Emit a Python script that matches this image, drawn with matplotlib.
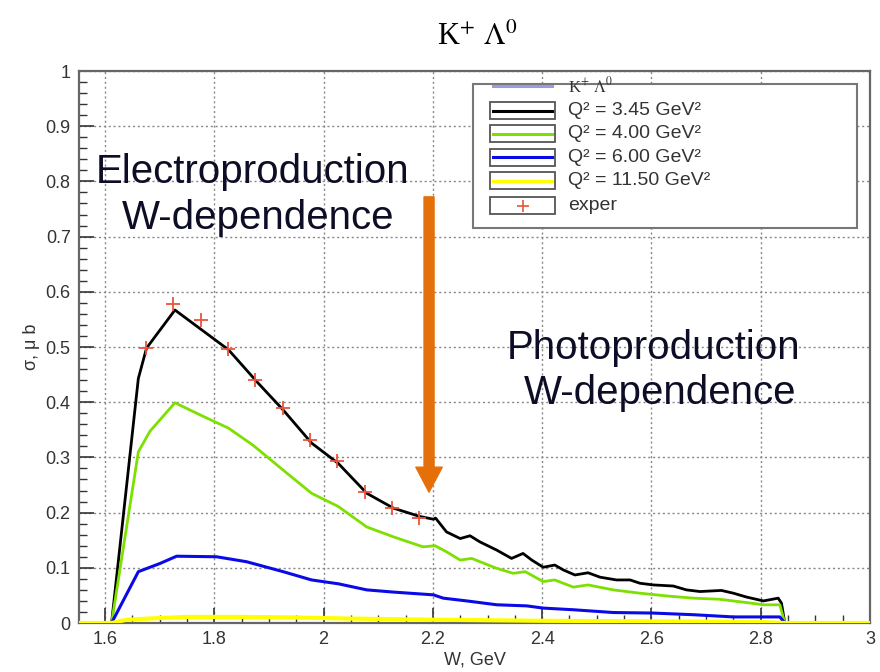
import matplotlib
matplotlib.use("Agg")
import matplotlib.pyplot as plt
from matplotlib.patches import Rectangle, FancyArrowPatch
from matplotlib.lines import Line2D

# ---------------- data ----------------
W_345 = [1.552, 1.612, 1.661, 1.676, 1.728, 1.826, 1.878, 1.926, 1.978, 2.027, 2.079,
         2.128, 2.176, 2.201, 2.205, 2.225, 2.25, 2.268, 2.286, 2.317, 2.344, 2.365,
         2.381, 2.402, 2.423, 2.439, 2.46, 2.484, 2.506, 2.536, 2.561, 2.579, 2.603,
         2.64, 2.664, 2.689, 2.728, 2.75, 2.774, 2.805, 2.832, 2.838, 2.844, 3.0]
S_345 = [0, 0, 0.443, 0.498, 0.567, 0.495, 0.437, 0.386, 0.326, 0.289, 0.235,
         0.208, 0.193, 0.188, 0.19, 0.165, 0.153, 0.158, 0.147, 0.132, 0.117, 0.126,
         0.114, 0.101, 0.105, 0.096, 0.087, 0.091, 0.083, 0.078, 0.078, 0.072, 0.069,
         0.067, 0.060, 0.057, 0.059, 0.054, 0.047, 0.040, 0.045, 0.036, 0.0, 0.0]

W_400 = [1.552, 1.612, 1.661, 1.682, 1.728, 1.774, 1.826, 1.871, 1.926, 1.978, 2.027,
         2.079, 2.128, 2.182, 2.204, 2.225, 2.25, 2.271, 2.317, 2.347, 2.369, 2.402,
         2.423, 2.457, 2.484, 2.53, 2.579, 2.628, 2.677, 2.725, 2.774, 2.805, 2.835,
         2.844, 3.0]
S_400 = [0, 0, 0.310, 0.347, 0.399, 0.377, 0.353, 0.322, 0.277, 0.235, 0.211,
         0.174, 0.156, 0.138, 0.140, 0.129, 0.114, 0.117, 0.099, 0.090, 0.093, 0.075,
         0.078, 0.065, 0.069, 0.060, 0.054, 0.049, 0.045, 0.043, 0.037, 0.033, 0.033,
         0.0, 0.0]

W_600 = [1.552, 1.612, 1.661, 1.701, 1.731, 1.804, 1.859, 1.926, 1.978, 2.027, 2.079,
         2.128, 2.201, 2.219, 2.262, 2.317, 2.372, 2.402, 2.457, 2.53, 2.603, 2.677,
         2.75, 2.835, 2.844, 3.0]
S_600 = [0, 0, 0.093, 0.108, 0.121, 0.120, 0.111, 0.093, 0.078, 0.071, 0.060,
         0.056, 0.051, 0.045, 0.040, 0.033, 0.031, 0.027, 0.024, 0.019, 0.018, 0.015,
         0.011, 0.011, 0.0, 0.0]

W_1150 = [1.552, 1.612, 1.64, 1.7, 1.75, 1.85, 1.95, 2.05, 2.2, 2.4, 2.6, 2.8, 2.844, 3.0]
S_1150 = [0, 0, 0.006, 0.009, 0.011, 0.011, 0.010, 0.008, 0.006, 0.004, 0.003, 0.002, 0, 0]

W_exp = [1.675, 1.725, 1.775, 1.825, 1.875, 1.925, 1.975, 2.025, 2.075, 2.125, 2.175]
S_exp = [0.498, 0.578, 0.549, 0.497, 0.440, 0.389, 0.331, 0.294, 0.237, 0.209, 0.190]

x_ticks = [1.6, 1.8, 2.0, 2.2, 2.4, 2.6, 2.8, 3.0]
x_ticklabels = ["1.6", "1.8", "2", "2.2", "2.4", "2.6", "2.8", "3"]
y_ticks = [0, 0.1, 0.2, 0.3, 0.4, 0.5, 0.6, 0.7, 0.8, 0.9, 1.0]
y_ticklabels = ["0", "0.1", "0.2", "0.3", "0.4", "0.5", "0.6", "0.7", "0.8", "0.9", "1"]

legend_labels = [r"K$^{+}$ $\Lambda^{0}$", "Q² = 3.45 GeV²", "Q² = 4.00 GeV²",
                 "Q² = 6.00 GeV²", "Q² = 11.50 GeV²", "exper"]

# ---------------- figure ----------------
plt.rcParams['font.family'] = ['Liberation Sans', 'DejaVu Sans']
plt.rcParams['mathtext.fontset'] = 'custom'
plt.rcParams['mathtext.rm'] = 'Liberation Sans'

fig = plt.figure(figsize=(8.8, 6.72), dpi=100)
ax = fig.add_axes([79 / 880, 49 / 672, 791 / 880, 552 / 672])

C_BLACK = "#000000"
C_GREEN = "#7ee000"
C_BLUE = "#0a0ae6"
C_YELLOW = "#ffff00"
C_RED = "#e8543c"

ax.plot(W_345, S_345, color=C_BLACK, lw=2.0, zorder=3)
ax.plot(W_400, S_400, color=C_GREEN, lw=2.0, zorder=3)
ax.plot(W_600, S_600, color=C_BLUE, lw=2.2, zorder=3)
ax.plot(W_1150, S_1150, color=C_YELLOW, lw=3.0, zorder=4)
ax.plot(W_exp, S_exp, linestyle="none", marker="+", color=C_RED, ms=10, mew=1.3, zorder=5)

ax.set_xlim(1.5524, 3.0)
ax.set_ylim(0, 1.0)
ax.set_xticks(x_ticks)
ax.set_xticklabels(x_ticklabels)
ax.set_yticks(y_ticks)
ax.set_yticklabels(y_ticklabels)
ax.set_xticks([1.6 + 0.05 * i for i in range(29)], minor=True)
ax.set_yticks([0.02 * i for i in range(51)], minor=True)
ax.tick_params(axis="both", which="major", direction="in", length=11, width=1.2,
               color="#333333", labelsize=13, labelcolor="#333333", pad=6)
ax.tick_params(axis="both", which="minor", direction="in", length=6, width=1.0, color="#333333")
ax.grid(True, which="major", linestyle=(0, (1.5, 2)), color="#888888", lw=1.0)
for s in ax.spines.values():
    s.set_color("#666666")
    s.set_linewidth(1.6)

ax.set_xlabel("W, GeV", fontsize=13, color="#333333", labelpad=2)
ax.set_ylabel("σ, μ b", fontsize=13, color="#333333", labelpad=4)

fig.text(0.542, 1 - 37 / 672, r"K$^{+}$ $\Lambda^{0}$", ha="center", va="center",
         fontsize=22, family="Liberation Serif", math_fontfamily="stix")

# ---------------- legend (manual, ROOT style) ----------------
tr = ax.transAxes
lx0, lx1, ly0, ly1 = 0.498, 0.984, 0.716, 0.976
ax.add_patch(Rectangle((lx0, ly0), lx1 - lx0, ly1 - ly0, transform=tr, facecolor="white",
                       edgecolor="#777777", lw=1.5, zorder=10))
rows_y = [0.9734, 0.928, 0.8859, 0.8437, 0.8013, 0.756]
bx0, bx1 = 0.5196, 0.6018
bh = 0.0308
row_colors = ["#9a9ae0", C_BLACK, C_GREEN, C_BLUE, C_YELLOW, None]
for i, (yy, lab, col) in enumerate(zip(rows_y, legend_labels, row_colors)):
    if i > 0:
        ax.add_patch(Rectangle((bx0, yy - bh / 2), bx1 - bx0, bh, transform=tr,
                               facecolor="white", edgecolor="#555555", lw=1.3, zorder=11))
    if col is not None:
        ax.add_line(Line2D([bx0 + 0.004, bx1 - 0.004], [yy, yy], transform=tr, color=col,
                           lw=2.2, zorder=12))
    else:
        ax.add_line(Line2D([(bx0 + bx1) / 2], [yy], transform=tr, marker="+", color=C_RED,
                           ms=8, mew=1.2, zorder=12))
    if i == 0:
        ax.text(0.618, yy - 0.002, lab, transform=tr, ha="left", va="center", fontsize=12,
                color="#333333", family="Liberation Serif", math_fontfamily="stix", zorder=12)
    else:
        ax.text(0.618, yy, lab, transform=tr, ha="left", va="center", fontsize=14,
                color="#333333", zorder=12)

# ---------------- annotations ----------------
txt_col = "#0d0d26"
fig.text(253 / 880, 1 - 172 / 672, "Electroproduction", ha="center", va="center",
         fontsize=29, color=txt_col)
fig.text(258 / 880, 1 - 218 / 672, "W-dependence", ha="center", va="center",
         fontsize=29, color=txt_col)
fig.text(654 / 880, 1 - 348 / 672, "Photoproduction", ha="center", va="center",
         fontsize=29, color=txt_col)
fig.text(660 / 880, 1 - 393 / 672, "W-dependence", ha="center", va="center",
         fontsize=29, color=txt_col)

arrow = FancyArrowPatch((2.193, 0.772), (2.193, 0.237), transform=ax.transData,
                        arrowstyle="simple,head_length=0.9,head_width=0.95,tail_width=0.36",
                        mutation_scale=20, color="#e5700a", shrinkA=0, shrinkB=0, zorder=6)
ax.add_patch(arrow)

fig.savefig("out.png", dpi=100)
